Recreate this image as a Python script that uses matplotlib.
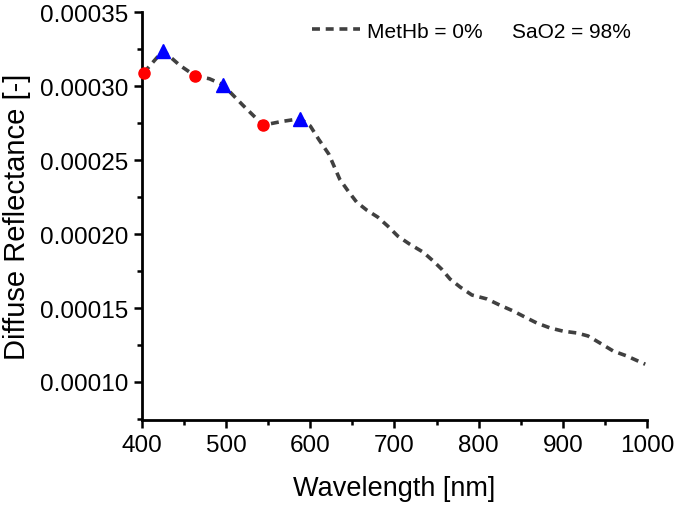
import matplotlib
matplotlib.use("Agg")
from matplotlib import pyplot as plt
from matplotlib.ticker import MultipleLocator, FormatStrFormatter

plt.rcParams['font.family'] = ['Liberation Sans', 'DejaVu Sans']

# spectrum (nm, reflectance)
wavelength = [402, 425, 445, 463, 480, 496, 520, 544, 565, 588, 600, 610, 622, 635, 645, 655,
              667, 680, 692, 704, 718, 734, 746, 756, 766, 778, 792, 810, 825, 841, 855,
              869, 885, 900, 917, 930, 944, 960, 976, 992, 998]
reflectance = [0.000309, 0.000324, 0.000314, 0.000307, 0.000305, 0.000301, 0.000287, 0.0002736,
               0.000276, 0.000278, 0.000273, 0.000264, 0.000254, 0.000237, 0.000229, 0.0002216,
               0.0002162, 0.0002115, 0.0002054, 0.0001986, 0.0001932, 0.0001878, 0.0001818,
               0.0001763, 0.0001696, 0.0001642, 0.0001588, 0.0001561, 0.000152, 0.000148,
               0.0001439, 0.0001399, 0.0001365, 0.0001344, 0.0001331, 0.0001311, 0.0001264,
               0.0001209, 0.0001176, 0.0001135, 0.000112]

# marked points
circle_wl = [402, 463, 544]
circle_val = [0.000309, 0.000307, 0.0002736]
triangle_wl = [425, 496, 588]
triangle_val = [0.000324, 0.000301, 0.000278]

fig = plt.figure(figsize=(6.75, 5.06), dpi=100)
ax = fig.add_axes([0.2104, 0.168, 0.748, 0.806])

ax.plot(wavelength, reflectance, color='#404040', lw=2.6, dashes=(2.2, 1.6),
        label='MetHb = 0%', zorder=2)
ax.plot(circle_wl, circle_val, 'o', color='red', ms=8, zorder=3, clip_on=False)
ax.plot(triangle_wl, triangle_val, '^', color='blue', ms=9.5, zorder=3)

ax.set_xlim(400, 1000)
ax.set_ylim(0.0000743, 0.00035)
ax.xaxis.set_major_locator(MultipleLocator(100))
ax.xaxis.set_minor_locator(MultipleLocator(50))
ax.yaxis.set_major_locator(MultipleLocator(0.00005))
ax.yaxis.set_minor_locator(MultipleLocator(0.000025))
ax.yaxis.set_major_formatter(FormatStrFormatter('%.5f'))

ax.spines['top'].set_visible(False)
ax.spines['right'].set_visible(False)
ax.spines['left'].set_linewidth(2)
ax.spines['bottom'].set_linewidth(2)
ax.tick_params(which='major', length=6, width=1.8, labelsize=17.5, direction='out', pad=4)
ax.tick_params(which='minor', length=3.5, width=1.8, direction='out')

ax.set_xlabel('Wavelength [nm]', fontsize=19.5, labelpad=14)
ax.set_ylabel('Diffuse Reflectance [-]', fontsize=21, labelpad=6)

ax.legend(loc='center left', bbox_to_anchor=(312 / 675, 1 - 32 / 506),
          bbox_transform=fig.transFigure, frameon=False, fontsize=15,
          handlelength=2.3, handletextpad=0.35, borderpad=0, borderaxespad=0)
fig.text(512 / 675, 1 - 32 / 506, 'SaO2 = 98%', fontsize=15, va='center')

fig.savefig('out.png', dpi=100)
